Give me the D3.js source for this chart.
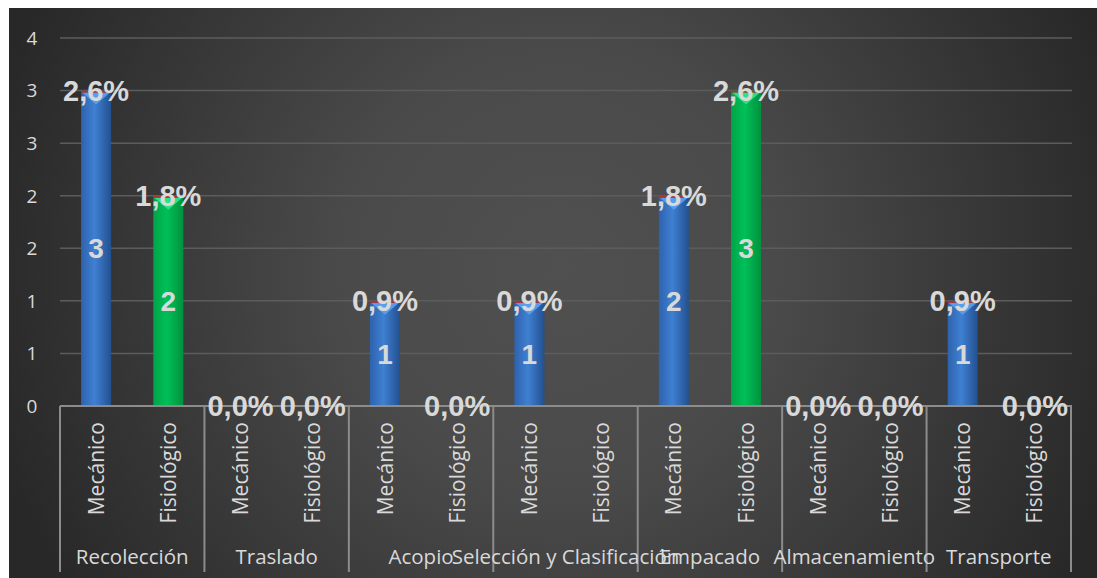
<!DOCTYPE html>
<html><head><meta charset="utf-8">
<script src="https://cdn.jsdelivr.net/npm/d3@7"></script>
<style>body{margin:0;background:#fff;}svg{display:block;}</style>
</head><body>
<svg id="chart" width="1097" height="578"></svg>
<script>
const groups = ["Recolección","Traslado","Acopio","Selección y Clasificación","Empacado","Almacenamiento","Transporte"];
const subcats = ["Mecánico","Fisiológico"];
const mecanico = [3,0,1,1,2,0,1];
const fisiologico = [2,0,0,null,3,0,0];
const pctMecanico = ["2,6%","0,0%","0,9%","0,9%","1,8%","0,0%","0,9%"];
const pctFisiologico = ["1,8%","0,0%","0,0%",null,"2,6%","0,0%","0,0%"];
const yTicks = [0,0.5,1,1.5,2,2.5,3,3.5];
const yTickLabels = ["0","1","1","2","2","3","3","4"];

const svg = d3.select("#chart");
const defs = svg.append("defs");
const bg = defs.append("radialGradient").attr("id","bg").attr("gradientUnits","userSpaceOnUse")
  .attr("cx",560).attr("cy",270).attr("r",620);
bg.append("stop").attr("offset",0).attr("stop-color","#505050");
bg.append("stop").attr("offset",0.35).attr("stop-color","#4a4a4a");
bg.append("stop").attr("offset",0.95).attr("stop-color","#282828");

function barGrad(id, c1, c2, c3){
  const g = defs.append("linearGradient").attr("id",id).attr("x1",0).attr("x2",1).attr("y1",0).attr("y2",0);
  g.append("stop").attr("offset",0).attr("stop-color",c1);
  g.append("stop").attr("offset",0.45).attr("stop-color",c2);
  g.append("stop").attr("offset",1).attr("stop-color",c3);
}
barGrad("gBlue","#2e62ad","#3f80d2","#23508f");
barGrad("gGreen","#00a448","#00c058","#00923e");

svg.append("rect").attr("x",9).attr("y",8).attr("width",1088).attr("height",570).attr("fill","url(#bg)");

const x0 = d3.scaleBand().domain(groups).range([60,1071]).paddingInner(0).paddingOuter(0);
const x1 = d3.scaleBand().domain(subcats).range([0,x0.bandwidth()]);
const y = d3.scaleLinear().domain([0,3.5]).range([406,38]);

// gridlines
svg.append("g").selectAll("line").data(yTicks.slice(1)).join("line")
  .attr("x1",60).attr("x2",1072).attr("y1",d=>y(d)).attr("y2",d=>y(d))
  .attr("stroke","#5c5c5c").attr("stroke-width",1.5);

// y labels
svg.append("g").selectAll("text").data(yTicks).join("text")
  .attr("x",32).attr("y",d=>y(d)).attr("dy","0.36em").attr("text-anchor","middle")
  .attr("font-family","Open Sans, sans-serif").attr("font-size",19).attr("fill","#d9d9d9")
  .text((d,i)=>yTickLabels[i]);

// data rows
const rows = [];
groups.forEach((g,i)=>{
  rows.push({g, s:"Mecánico", v:mecanico[i], p:pctMecanico[i], fill:"url(#gBlue)", tri:"#5aa2f2"});
  rows.push({g, s:"Fisiológico", v:fisiologico[i], p:pctFisiologico[i], fill:"url(#gGreen)", tri:"#2fe68a"});
});
const bw = 30;
const cx = d=> x0(d.g) + x1(d.s) + x1.bandwidth()/2;

const barG = svg.append("g");
rows.filter(d=>d.v>0).forEach(d=>{
  const xc = cx(d), top = y(d.v), h = y(0)-top;
  barG.append("rect").attr("x",xc-bw/2).attr("y",top).attr("width",bw).attr("height",h).attr("fill",d.fill);
  barG.append("path").attr("d",`M${xc-bw/2+1},${top+2} L${xc+bw/2-1},${top+2} L${xc},${top+14} Z`).attr("fill",d.tri).attr("opacity",0.9);
  barG.append("rect").attr("x",xc-bw/2).attr("y",top).attr("width",bw).attr("height",2).attr("fill","#b03030");
});

// axis frame
const axG = svg.append("g").attr("stroke","#8c8c8c").attr("stroke-width",2);
axG.append("line").attr("x1",60).attr("x2",1072).attr("y1",406).attr("y2",406);
const bounds = groups.map(g=>x0(g)).concat([x0.range()[1]]);
axG.selectAll("line.v").data(bounds).join("line").attr("class","v")
  .attr("x1",d=>d).attr("x2",d=>d).attr("y1",406).attr("y2",572);

// sub labels
svg.append("g").selectAll("text").data(rows).join("text")
  .attr("transform",d=>`translate(${cx(d)},422) rotate(-90)`)
  .attr("dy","0.36em").attr("text-anchor","end")
  .attr("font-family","Open Sans, sans-serif").attr("font-size",21).attr("fill","#d9d9d9")
  .text(d=>d.s);

// group labels
svg.append("g").selectAll("text").data(groups).join("text")
  .attr("x",g=>x0(g)+x0.bandwidth()/2).attr("y",564).attr("text-anchor","middle")
  .attr("font-family","Open Sans, sans-serif").attr("font-size",20.5).attr("fill","#d9d9d9")
  .text(g=>g);

// value labels inside bars
svg.append("g").selectAll("text").data(rows.filter(d=>d.v>0)).join("text")
  .attr("x",cx).attr("y",d=>(y(d.v)+y(0))/2).attr("dy","0.36em").attr("text-anchor","middle")
  .attr("font-family","Liberation Sans, Arial, sans-serif").attr("font-weight","bold").attr("font-size",28).attr("fill","#d9d9d9")
  .text(d=>d.v);

// percentage labels
svg.append("g").selectAll("text").data(rows.filter(d=>d.p!==null)).join("text")
  .attr("x",cx).attr("y",d=>y(d.v)).attr("dy","0.36em").attr("text-anchor","middle")
  .attr("font-family","Liberation Sans, Arial, sans-serif").attr("font-weight","bold").attr("font-size",29).attr("fill","#d9d9d9")
  .text(d=>d.p);
</script>
</body></html>
